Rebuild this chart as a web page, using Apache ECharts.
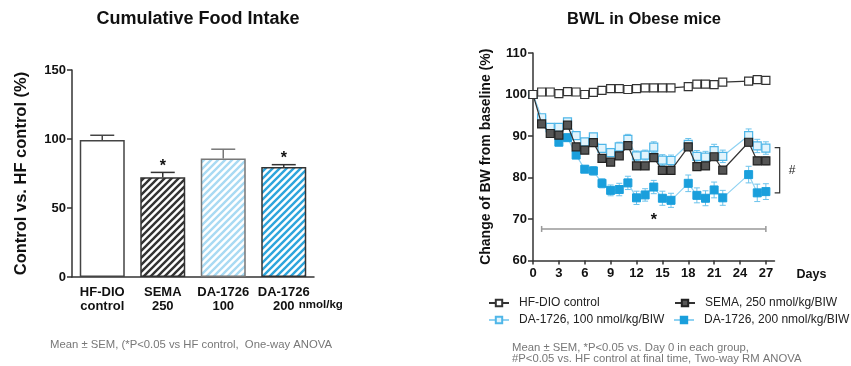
<!DOCTYPE html>
<html>
<head>
<meta charset="utf-8">
<script src="https://cdn.jsdelivr.net/npm/echarts@6/dist/echarts.min.js"></script>
<style>
html, body { margin: 0; padding: 0; background: #fff; }
#main { width: 851px; height: 366px; }
</style>
</head>
<body>
<div id="main"></div>
<script>
// ---- left panel: cumulative food intake ----
let foodGroups = ['HF-DIO\ncontrol', 'SEMA\n250', 'DA-1726\n100', 'DA-1726\n200'];
let foodMean = [99.3, 72.2, 85.9, 79.8];
let foodSem = [3.4, 3.6, 6.7, 1.6];
let foodSig = [false, true, false, true];

// ---- right panel: body weight change (% of baseline) ----
let days = [0, 1, 2, 3, 4, 5, 6, 7, 8, 9, 10, 11, 12, 13, 14, 15, 16, 18, 19, 20, 21, 22, 25, 26, 27];
let dayTicks = [0, 3, 6, 9, 12, 15, 18, 21, 24, 27];
let hfBW   = [100, 100.6, 100.6, 100.2, 100.7, 100.6, 100.0, 100.5, 101.0, 101.4, 101.4, 101.2, 101.4, 101.6, 101.6, 101.6, 101.6, 101.9, 102.5, 102.5, 102.4, 103.0, 103.2, 103.6, 103.4];
let hfSem  = [0, 0.3, 0.3, 0.3, 0.3, 0.3, 0.3, 0.3, 0.3, 0.3, 0.3, 0.3, 0.3, 0.3, 0.3, 0.3, 0.3, 0.3, 0.3, 0.3, 0.3, 0.3, 0.3, 0.3, 0.3];
let semaBW = [100, 92.9, 90.6, 90.2, 92.6, 87.4, 86.6, 88.4, 84.6, 83.7, 85.2, 87.7, 82.8, 82.8, 84.8, 81.7, 81.7, 87.4, 82.6, 82.8, 85.0, 81.8, 88.5, 84.0, 84.0];
let semaSem = [0, 0.5, 0.5, 0.5, 0.6, 0.6, 0.6, 0.6, 0.6, 0.7, 0.7, 0.7, 0.7, 0.7, 0.8, 0.8, 0.8, 0.8, 0.8, 0.8, 0.8, 0.8, 0.9, 0.9, 0.9];
let da100BW = [100, 94.4, 92.1, 92.1, 93.4, 90.1, 88.6, 89.8, 87.0, 86.0, 87.4, 89.2, 85.2, 85.4, 87.3, 84.2, 84.1, 88.0, 85.1, 84.9, 86.5, 85.1, 90.1, 87.6, 87.1];
let da100Sem = [0, 0.6, 0.6, 0.6, 0.7, 0.7, 0.8, 0.8, 0.9, 1.0, 1.1, 1.2, 1.2, 1.2, 1.3, 1.3, 1.3, 1.4, 1.4, 1.4, 1.5, 1.5, 1.6, 1.6, 1.5];
let da200BW = [100, 94.1, 91.8, 88.5, 89.6, 85.4, 82.0, 81.6, 78.6, 76.9, 77.1, 78.7, 75.1, 75.8, 77.7, 75.0, 74.5, 78.6, 75.7, 75.0, 77.0, 75.1, 80.7, 76.3, 76.6];
let da200Sem = [0, 0.6, 0.6, 0.7, 0.7, 0.8, 0.8, 1.0, 1.1, 1.3, 1.5, 1.6, 1.6, 1.5, 1.6, 1.7, 1.7, 2.0, 1.8, 1.8, 1.9, 1.8, 2.0, 2.1, 1.9];

// significance annotations (data units)
let starLine = { from: 1, to: 27, y: 67.6 };
let hashBracket = { x: 28.6, top: 87.2, bottom: 76.3 };

let font = 'Liberation Sans, Arial, sans-serif';

function stripes(color) {
    let c = document.createElement('canvas');
    c.width = 7; c.height = 7;
    let ctx = c.getContext('2d');
    ctx.fillStyle = '#fff';
    ctx.fillRect(0, 0, 7, 7);
    ctx.strokeStyle = color;
    ctx.lineWidth = 2.4;
    ctx.beginPath();
    ctx.moveTo(-1, 8); ctx.lineTo(8, -1);
    ctx.moveTo(-4.5, 4.5); ctx.lineTo(4.5, -4.5);
    ctx.moveTo(2.5, 11.5); ctx.lineTo(11.5, 2.5);
    ctx.stroke();
    return { image: c, repeat: 'repeat' };
}

let barFills = ['#fff', stripes('#333'), stripes('#a9daf3'), stripes('#2ea5dc')];
let barBorders = ['#444', '#333', '#777', '#333'];

function lineErr(color) {
    return function (params, api) {
        let x = api.value(0), m = api.value(1), s = api.value(2);
        if (!s) return null;
        let top = api.coord([x, m + s]), bot = api.coord([x, m - s]);
        let w = 3;
        let st = { stroke: color, lineWidth: 1 };
        return {
            type: 'group', children: [
                { type: 'line', shape: { x1: top[0], y1: top[1], x2: bot[0], y2: bot[1] }, style: st },
                { type: 'line', shape: { x1: top[0] - w, y1: top[1], x2: top[0] + w, y2: top[1] }, style: st },
                { type: 'line', shape: { x1: bot[0] - w, y1: bot[1], x2: bot[0] + w, y2: bot[1] }, style: st }
            ]
        };
    };
}

function pairs(vals, sems) {
    return days.map((d, i) => [d, vals[i], sems[i]]);
}

let axisTxt = { color: '#111', fontWeight: 'bold', fontFamily: font };
let legendTxt = { color: '#222', fontSize: 12, fontFamily: font, padding: [0, 0, 0, 5] };

let myChart = echarts.init(document.getElementById('main'), null, { renderer: 'canvas' });

myChart.setOption({
    animation: false,
    backgroundColor: '#fff',
    title: [
        { text: 'Cumulative Food Intake', left: 193, top: 5, textAlign: 'center',
          textStyle: { fontSize: 18, fontWeight: 'bold', color: '#111', fontFamily: font } },
        { text: 'BWL in Obese mice', left: 639, top: 6, textAlign: 'center',
          textStyle: { fontSize: 16.5, fontWeight: 'bold', color: '#111', fontFamily: font } }
    ],
    legend: [
        { data: ['HF-DIO control'], left: 483, top: 292, itemWidth: 20, itemHeight: 8, textStyle: legendTxt },
        { data: ['SEMA, 250 nmol/kg/BIW'], left: 669, top: 292, itemWidth: 20, itemHeight: 8, textStyle: legendTxt },
        { data: ['DA-1726, 100 nmol/kg/BIW'], left: 483, top: 309, itemWidth: 20, itemHeight: 8, textStyle: legendTxt },
        { data: ['DA-1726, 200 nmol/kg/BIW'], left: 668, top: 309, itemWidth: 20, itemHeight: 8, textStyle: legendTxt }
    ],
    grid: [
        { left: 72, top: 70, width: 242, height: 207 },
        { left: 533, top: 53, width: 241.5, height: 207.5 }
    ],
    xAxis: [
        {
            gridIndex: 0, type: 'category', data: foodGroups,
            axisLine: { lineStyle: { color: '#333', width: 1.5 } },
            axisTick: { alignWithLabel: true, length: 5, lineStyle: { color: '#333', width: 1.5 } },
            axisLabel: Object.assign({ fontSize: 13, lineHeight: 14, margin: 8, interval: 0 }, axisTxt)
        },
        {
            gridIndex: 1, type: 'value', min: 0, max: 28,
            axisLine: { lineStyle: { color: '#333', width: 1.5 } },
            axisTick: { customValues: dayTicks, length: 4, lineStyle: { color: '#333', width: 1.5 } },
            axisLabel: Object.assign({ customValues: dayTicks, fontSize: 13, margin: 6 }, axisTxt),
            splitLine: { show: false },
            name: 'Days', nameLocation: 'end', nameGap: 22,
            nameTextStyle: { fontSize: 12.5, fontWeight: 'bold', color: '#111', fontFamily: font,
                             verticalAlign: 'top', padding: [8, 0, 0, 0] }
        }
    ],
    yAxis: [
        {
            gridIndex: 0, type: 'value', min: 0, max: 150, interval: 50,
            axisLine: { show: true, lineStyle: { color: '#333', width: 1.5 } },
            axisTick: { show: true, length: 5, lineStyle: { color: '#333', width: 1.5 } },
            axisLabel: Object.assign({ fontSize: 13, margin: 6 }, axisTxt),
            splitLine: { show: false },
            name: 'Control vs. HF control (%)', nameLocation: 'middle', nameGap: 42,
            nameTextStyle: { fontSize: 16.5, fontWeight: 'bold', color: '#111', fontFamily: font }
        },
        {
            gridIndex: 1, type: 'value', min: 60, max: 110, interval: 10,
            axisLine: { show: true, lineStyle: { color: '#333', width: 1.5 } },
            axisTick: { show: true, length: 5, lineStyle: { color: '#333', width: 1.5 } },
            axisLabel: Object.assign({ fontSize: 13, margin: 6 }, axisTxt),
            splitLine: { show: false },
            name: 'Change of BW from baseline (%)', nameLocation: 'middle', nameGap: 40,
            nameTextStyle: { fontSize: 14, fontWeight: 'bold', color: '#111', fontFamily: font }
        }
    ],
    series: [
        {
            type: 'bar', xAxisIndex: 0, yAxisIndex: 0, barWidth: 45,
            data: foodMean.map((v, i) => ({
                value: v,
                itemStyle: { color: barFills[i], borderColor: barBorders[i], borderWidth: 1.5 }
            })),
            emphasis: { disabled: true }
        },
        {
            type: 'custom', xAxisIndex: 0, yAxisIndex: 0, z: 3,
            data: foodMean.map((v, i) => [i, v, foodSem[i], foodSig[i] ? 1 : 0]),
            encode: { x: 0, y: 1 },
            renderItem: function (params, api) {
                let i = api.value(0), m = api.value(1), s = api.value(2);
                let base = api.coord([i, m]), top = api.coord([i, m + s]);
                let st = { stroke: barBorders[i], lineWidth: 1.5 };
                let kids = [
                    { type: 'line', shape: { x1: base[0], y1: base[1], x2: top[0], y2: top[1] }, style: st },
                    { type: 'line', shape: { x1: top[0] - 12, y1: top[1], x2: top[0] + 12, y2: top[1] }, style: st }
                ];
                if (api.value(3)) {
                    kids.push({ type: 'text', x: top[0], y: top[1] - 6,
                        style: { text: '*', fontSize: 16, fontWeight: 'bold', fill: '#111', fontFamily: font,
                                 align: 'center', verticalAlign: 'middle' } });
                }
                return { type: 'group', children: kids };
            }
        },
        // error bars (right panel)
        { type: 'custom', xAxisIndex: 1, yAxisIndex: 1, z: 1, data: pairs(hfBW, hfSem), encode: { x: 0, y: 1 }, renderItem: lineErr('#333') },
        { type: 'custom', xAxisIndex: 1, yAxisIndex: 1, z: 1, data: pairs(semaBW, semaSem), encode: { x: 0, y: 1 }, renderItem: lineErr('#333') },
        { type: 'custom', xAxisIndex: 1, yAxisIndex: 1, z: 1, data: pairs(da100BW, da100Sem), encode: { x: 0, y: 1 }, renderItem: lineErr('#6cc3ec') },
        { type: 'custom', xAxisIndex: 1, yAxisIndex: 1, z: 1, data: pairs(da200BW, da200Sem), encode: { x: 0, y: 1 }, renderItem: lineErr('#6cc3ec') },
        {
            name: 'HF-DIO control', type: 'line', xAxisIndex: 1, yAxisIndex: 1, z: 5,
            data: days.map((d, i) => [d, hfBW[i]]),
            symbol: 'rect', symbolSize: 8,
            lineStyle: { color: '#333', width: 1.2 },
            itemStyle: { color: '#fff', borderColor: '#333', borderWidth: 1.2 },
            emphasis: { disabled: true }
        },
        {
            name: 'SEMA, 250 nmol/kg/BIW', type: 'line', xAxisIndex: 1, yAxisIndex: 1, z: 4,
            data: days.map((d, i) => [d, semaBW[i]]),
            symbol: 'rect', symbolSize: 8,
            lineStyle: { color: '#333', width: 1.2 },
            itemStyle: { color: '#555', borderColor: '#222', borderWidth: 1.2 },
            emphasis: { disabled: true }
        },
        {
            name: 'DA-1726, 100 nmol/kg/BIW', type: 'line', xAxisIndex: 1, yAxisIndex: 1, z: 3,
            data: days.map((d, i) => [d, da100BW[i]]),
            symbol: 'rect', symbolSize: 8,
            lineStyle: { color: '#8fd2f2', width: 1.2 },
            itemStyle: { color: '#e2f4fc', borderColor: '#4fb6e8', borderWidth: 1.2 },
            emphasis: { disabled: true }
        },
        {
            name: 'DA-1726, 200 nmol/kg/BIW', type: 'line', xAxisIndex: 1, yAxisIndex: 1, z: 2,
            data: days.map((d, i) => [d, da200BW[i]]),
            symbol: 'rect', symbolSize: 8,
            lineStyle: { color: '#8fd2f2', width: 1.2 },
            itemStyle: { color: '#1a9fdc', borderColor: '#1a9fdc', borderWidth: 1 },
            emphasis: { disabled: true }
        }
    ]
});

// annotations placed through the panels' scales
let p = (x, y) => myChart.convertToPixel({ gridIndex: 1 }, [x, y]);
let a = p(starLine.from, starLine.y), b = p(starLine.to, starLine.y);
let bt = p(hashBracket.x, hashBracket.top), bb = p(hashBracket.x, hashBracket.bottom);
let unitAt = myChart.convertToPixel({ gridIndex: 0 }, [foodGroups.length - 1, 0]);
let gray = { stroke: '#999', lineWidth: 1.5 };
let dark = { stroke: '#333', lineWidth: 1.2 };
myChart.setOption({
    graphic: [
        { type: 'line', shape: { x1: a[0], y1: a[1], x2: b[0], y2: b[1] }, style: gray },
        { type: 'line', shape: { x1: a[0], y1: a[1] - 3, x2: a[0], y2: a[1] + 3 }, style: gray },
        { type: 'line', shape: { x1: b[0], y1: b[1] - 3, x2: b[0], y2: b[1] + 3 }, style: gray },
        { type: 'text', x: (a[0] + b[0]) / 2, y: a[1] - 8,
          style: { text: '*', fontSize: 16, fontWeight: 'bold', fill: '#111', fontFamily: font, align: 'center', verticalAlign: 'middle' } },
        { type: 'polyline', shape: { points: [[bt[0] - 5, bt[1]], [bt[0], bt[1]], [bb[0], bb[1]], [bb[0] - 5, bb[1]]] }, style: Object.assign({ fill: null }, dark) },
        { type: 'text', x: bt[0] + 9, y: (bt[1] + bb[1]) / 2,
          style: { text: '#', fontSize: 12, fill: '#222', fontFamily: font, align: 'left', verticalAlign: 'middle' } },
        { type: 'text', x: unitAt[0] + 15, y: unitAt[1] + 28,
          style: { text: 'nmol/kg', fontSize: 11.5, fontWeight: 'bold', fill: '#111', fontFamily: font, align: 'left', verticalAlign: 'middle' } },
        { type: 'text', left: 50, top: 339,
          style: { text: 'Mean \u00b1 SEM, (*P<0.05 vs HF control,  One-way ANOVA', fontSize: 11.3, fill: '#777', fontFamily: font } },
        { type: 'text', left: 512, top: 342,
          style: { text: 'Mean \u00b1 SEM, *P<0.05 vs. Day 0 in each group,\n#P<0.05 vs. HF control at final time, Two-way RM ANOVA',
                   fontSize: 11.3, lineHeight: 11.5, fill: '#777', fontFamily: font } }
    ]
});
</script>
</body>
</html>
